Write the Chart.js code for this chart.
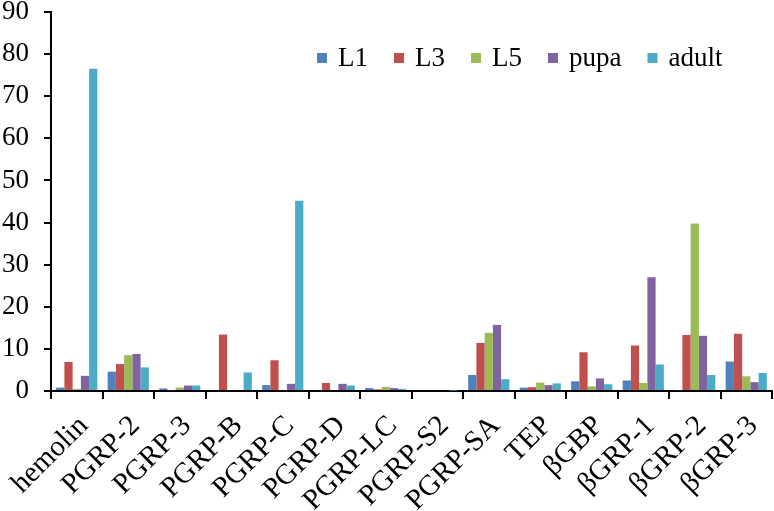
<!DOCTYPE html>
<html>
<head>
<meta charset="utf-8">
<script src="https://cdn.jsdelivr.net/npm/chart.js@4.4.1/dist/chart.umd.min.js"></script>
<style>
  html, body { margin: 0; padding: 0; background: #fff; }
  #box { width: 774px; height: 511px; }
</style>
</head>
<body>
<div id="box"><canvas id="chart"></canvas></div>
<script>
// genes on the x axis
const genes = ['hemolin', 'PGRP-2', 'PGRP-3', 'PGRP-B', 'PGRP-C', 'PGRP-D', 'PGRP-LC',
  'PGRP-S2', 'PGRP-SA', 'TEP', 'βGBP', 'βGRP-1', 'βGRP-2', 'βGRP-3'];

// relative expression per stage
const L1 = [0.8, 4.6, 0.6, 0, 1.4, 0, 0.7, 0, 3.8, 0.8, 2.3, 2.5, 0.2, 7.0];
const L3 = [6.9, 6.4, 0.2, 13.4, 7.3, 1.9, 0.4, 0, 11.4, 0.9, 9.2, 10.8, 13.3, 13.6];
const L5 = [0.5, 8.5, 0.8, 0, 0, 0, 1.0, 0, 13.8, 2.0, 1.1, 1.9, 39.8, 3.5];
const pupa = [3.6, 8.8, 1.3, 0, 1.7, 1.7, 0.7, 0, 15.7, 1.4, 3.0, 27.0, 13.1, 2.1];
const adult = [76.5, 5.6, 1.3, 4.4, 45.2, 1.3, 0.5, 0.1, 2.8, 1.8, 1.6, 6.3, 3.8, 4.3];

const stageNames = ['L1', 'L3', 'L5', 'pupa', 'adult'];
const stageColors = ['#4F81BD', '#C0504D', '#9BBB59', '#8064A2', '#4BACC6'];

const yTicks = [0, 10, 20, 30, 40, 50, 60, 70, 80, 90];

const serif = '"Liberation Serif", "Times New Roman", serif';

// legend drawn inside the plot, top right
const innerLegend = {
  id: 'innerLegend',
  afterDraw(chart) {
    const ctx = chart.ctx;
    ctx.save();
    ctx.font = '27px ' + serif;
    ctx.textBaseline = 'middle';
    let x = 317;
    const y = 58;
    chart.data.datasets.forEach(ds => {
      ctx.fillStyle = ds.backgroundColor;
      ctx.fillRect(x, y - 5, 10, 10);
      ctx.fillStyle = '#000';
      ctx.fillText(ds.label, x + 21, y + 1);
      x += 21 + ctx.measureText(ds.label).width + 26;
    });
    ctx.restore();
  }
};

const seriesValues = [L1, L3, L5, pupa, adult];

new Chart(document.getElementById('chart'), {
  type: 'bar',
  data: {
    labels: genes,
    datasets: seriesValues.map((vals, i) => ({
      label: stageNames[i],
      data: vals,
      backgroundColor: stageColors[i],
      categoryPercentage: 0.8,
      barPercentage: 1.0
    }))
  },
  options: {
    responsive: true,
    maintainAspectRatio: false,
    animation: false,
    layout: { padding: { top: 12, right: 2, left: 0, bottom: 0 } },
    plugins: {
      legend: { display: false },
      tooltip: { enabled: false }
    },
    scales: {
      x: {
        afterFit: s => { s.height = 120; s.paddingLeft = 0; s.paddingRight = 0; },
        grid: {
          offset: true,
          drawOnChartArea: false,
          drawTicks: true,
          tickLength: 8,
          color: '#000',
          lineWidth: 2
        },
        border: { color: '#000', width: 2 },
        ticks: {
          color: '#000',
          font: { family: serif, size: 29 },
          minRotation: 45,
          maxRotation: 45,
          autoSkip: false,
          padding: 10,
          labelOffset: 7
        }
      },
      y: {
        min: 0,
        max: 90,
        afterFit: s => { s.width = 51; s.paddingTop = 0; s.paddingBottom = 0; },
        afterBuildTicks: s => { s.ticks = yTicks.map(v => ({ value: v })); },
        grid: {
          drawOnChartArea: false,
          drawTicks: true,
          tickLength: 7,
          color: '#000',
          lineWidth: 2
        },
        border: { color: '#000', width: 2 },
        ticks: {
          color: '#000',
          font: { family: serif, size: 27 },
          padding: 15
        }
      }
    }
  },
  plugins: [innerLegend]
});
</script>
</body>
</html>
